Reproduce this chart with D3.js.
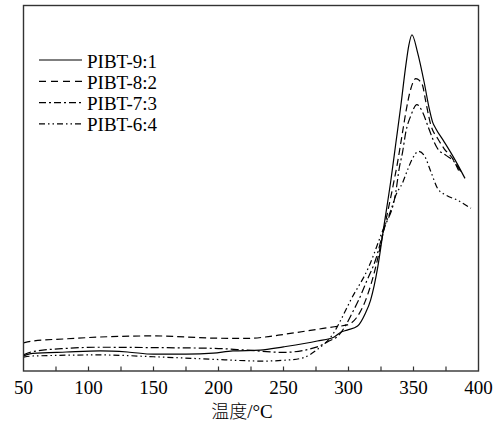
<!DOCTYPE html>
<html><head><meta charset="utf-8">
<script src="https://cdn.jsdelivr.net/npm/d3@7/dist/d3.min.js"></script>
<style>body{margin:0;background:#fff}</style>
</head><body><svg id="c" width="499" height="422"></svg>
<script>
const xTicks = [50,100,150,200,250,300,350,400];
const seriesNames = ["PIBT-9:1","PIBT-8:2","PIBT-7:3","PIBT-6:4"];

const x91 = [50,57,83,109,130,150,175,196,211,232,250,276,289,294,299,307,313,317,322.5,327.1,332.6,336.4,340.3,344.1,346.4,348.8,353.1,358.2,362.1,364.7,367.2,373.6,381.4,389.6];
const y91 = [4.1,4.8,5.2,5.5,5.2,4.6,4.6,4.9,5.5,5.7,6.6,8.2,9.3,10.6,11.2,12.3,15.8,19.4,28.4,39.3,52.2,62.3,72.7,83.6,89.1,92.0,87.2,79.0,71.8,68.1,66.3,62.7,58.1,52.7];

const x82 = [50,57,83,109,150,196,222,236,250,276,289,299,306,313.2,320.9,327.1,333.9,337.7,341.6,344.1,348,351.8,354.5,357,359.5,363.4,368.6,373.6,380.1,385.2];
const y82 = [7.7,8.2,8.8,9.3,9.6,9.0,8.9,9.3,10.0,11.4,12.1,12.6,14.5,19.4,28.4,38.5,50.0,57.0,65.4,70.8,77.3,80.0,79.5,78.1,73.6,67.2,63.6,60.8,58.1,54.5];

const x73 = [50,57,83.5,109,150,196,222,250,276,285,292,298,303,307.8,314,320.9,327.1,336.4,339,341.6,344.1,348,352.6,357,360.9,364.7,368.6,375,381.4,386.5];
const y73 = [4.4,5.3,6.2,6.5,6.4,6.2,5.7,5.1,6.6,8.2,9.6,12.6,16.0,19.4,24.6,30.5,38.5,49.0,55.4,59.9,65.4,69.9,72.9,70.8,67.2,63.6,60.8,59.0,57.2,54.5];

const x64 = [50,57,109,150,196,222,232,253,265,276,288.6,294,301.7,315.5,326.4,332.6,336.4,341.6,345.4,349.3,353.9,358.2,363.4,368.6,375,384,394.2];
const y64 = [3.8,4.1,4.4,3.9,3.2,2.8,2.7,3.0,3.6,5.9,10.4,13.9,19.4,28.4,38.5,44.0,48.1,51.5,55.0,58.2,60.1,59.0,54.5,49.9,48.1,46.7,44.5];

const dashes = [null, "7,4", "8,3,2,3", "6,3,1.5,3,1.5,3"];
const legendDashes = [null, "7,5", "7,3,2,3", "6,3,1.5,3,1.5,3"];

const svg = d3.select("#c");
const L = 23.5, R = 478.5, T = 5.5, B = 371;
const x = d3.scaleLinear().domain([50,400]).range([L,R]);
const y = d3.scaleLinear().domain([0,100]).range([B,T]);

const series = [[x91,y91],[x82,y82],[x73,y73],[x64,y64]];
const line = d3.line().x(d=>x(d[0])).y(d=>y(d[1])).curve(d3.curveMonotoneX);
series.forEach((s,i)=>{
  const pts = s[0].map((v,j)=>[v,s[1][j]]);
  svg.append("path").attr("d", line(pts)).attr("fill","none")
    .attr("stroke","#000").attr("stroke-width",1.2)
    .attr("stroke-dasharray", dashes[i]);
});

// frame
svg.append("rect").attr("x",L).attr("y",T).attr("width",R-L).attr("height",B-T)
  .attr("fill","none").attr("stroke","#333").attr("stroke-width",1.4);

// x axis ticks (inward) and labels
const minor = d3.range(75,400,25);
svg.append("g").selectAll("line").data(minor).join("line")
  .attr("x1",d=>x(d)).attr("x2",d=>x(d)).attr("y1",B).attr("y2",B-4.5)
  .attr("stroke","#333").attr("stroke-width",1.2);
svg.append("g").selectAll("text").data(xTicks).join("text")
  .attr("x",d=>x(d)).attr("y",394).attr("text-anchor","middle")
  .attr("font-family","Liberation Serif, Times New Roman, serif").attr("font-size",19)
  .text(d=>d);

const t = svg.append("text").attr("x",242).attr("y",418).attr("text-anchor","middle")
  .attr("font-size",18);
t.append("tspan").attr("font-family","Noto Sans CJK SC, sans-serif").attr("font-weight",300).text("温度");
t.append("tspan").attr("font-family","Liberation Serif, serif").attr("font-size",19).text("/°C");

// legend
const lg = svg.append("g");
seriesNames.forEach((n,i)=>{
  const cy = 61 + i*21.3;
  lg.append("line").attr("x1",39).attr("x2",82).attr("y1",cy-1).attr("y2",cy-1)
    .attr("stroke","#000").attr("stroke-width",1.2).attr("stroke-dasharray",legendDashes[i]);
  lg.append("text").attr("x",87).attr("y",cy+6.5)
    .attr("font-family","Liberation Serif, Times New Roman, serif").attr("font-size",19)
    .text(n);
});
</script></body></html>
